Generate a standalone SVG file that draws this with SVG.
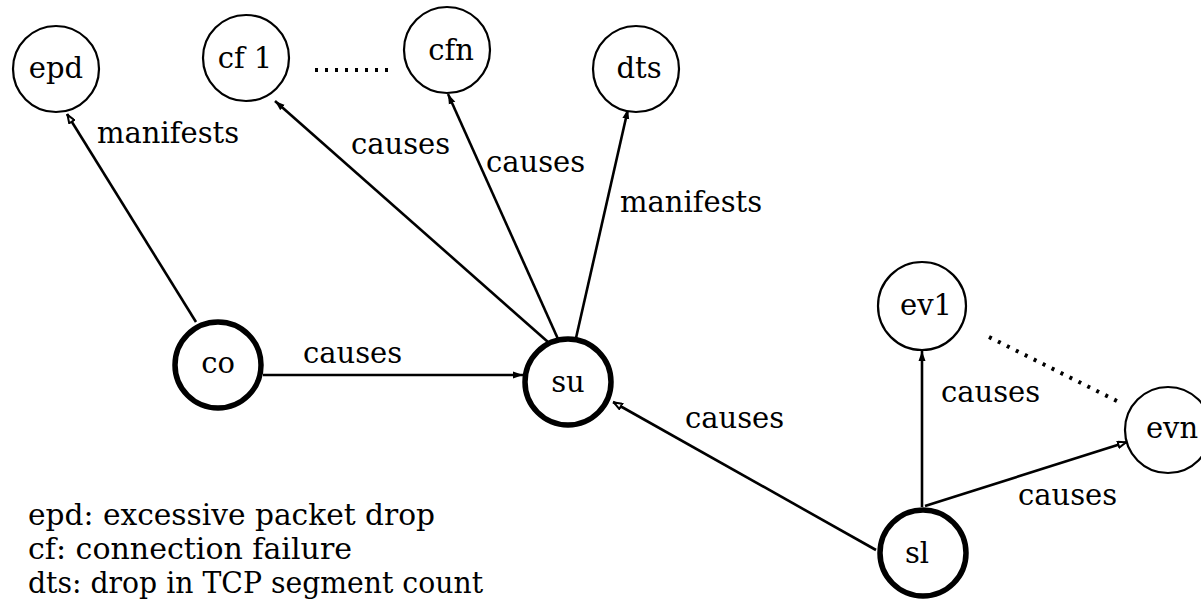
<svg xmlns="http://www.w3.org/2000/svg" width="1201" height="601" viewBox="0 0 1201 601">
<style>
.n{fill:#fff;stroke:#000;stroke-width:2.2}
.t{fill:#fff;stroke:#000;stroke-width:5.5}
.c{text-anchor:middle}
.e{stroke:#000;stroke-width:2.6;fill:none}
.d{stroke:#000;stroke-width:4;fill:none;stroke-dasharray:3 7}
</style>
<defs>
<marker id="a" viewBox="0 0 10 8" refX="10" refY="4" markerWidth="10" markerHeight="8" markerUnits="userSpaceOnUse" orient="auto"><path d="M0,0.5 L10,4 L0,7.5 z" fill="#000"/></marker>
<marker id="o" viewBox="0 0 10 8" refX="10" refY="4" markerWidth="10" markerHeight="8" markerUnits="userSpaceOnUse" orient="auto"><path d="M1,1 L9,4 L1,7 z" fill="#fff" stroke="#000" stroke-width="2"/></marker>
</defs>
<g font-family="'DejaVu Serif', 'Liberation Serif', serif" font-size="29" fill="#000">
<g id="connectors">
<line class="e" x1="196" y1="322" x2="67" y2="114" marker-end="url(#o)"/>
<line class="e" x1="548" y1="342" x2="275" y2="101" marker-end="url(#a)"/>
<line class="e" x1="558" y1="339" x2="448" y2="94" marker-end="url(#a)"/>
<line class="e" x1="576" y1="338" x2="628" y2="109" marker-end="url(#a)"/>
<line class="e" x1="263" y1="375" x2="523" y2="375" marker-end="url(#a)"/>
<line class="e" x1="876" y1="550" x2="613" y2="402" marker-end="url(#o)"/>
<line class="e" x1="922" y1="507" x2="922" y2="351" marker-end="url(#a)"/>
<line class="e" x1="925" y1="506" x2="1127" y2="442" marker-end="url(#o)"/>
<line class="d" x1="315" y1="70" x2="392" y2="70"/>
<line class="d" x1="989" y1="337" x2="1123" y2="404"/>
<text x="97" y="143">manifests</text>
<text x="351" y="154">causes</text>
<text x="486" y="172">causes</text>
<text x="620" y="212">manifests</text>
<text x="303" y="363">causes</text>
<text x="685" y="428">causes</text>
<text x="941" y="402">causes</text>
<text x="1018" y="505">causes</text>
</g>
<g id="epd"><circle class="n" cx="56" cy="69" r="43"/><text class="c" x="56" y="78">epd</text></g>
<g id="cf1"><circle class="n" cx="246" cy="58" r="43"/><text class="c" x="245" y="68">cf 1</text></g>
<g id="cfn"><circle class="n" cx="447" cy="50" r="43"/><text class="c" x="451" y="60">cfn</text></g>
<g id="dts"><circle class="n" cx="636" cy="69" r="43"/><text class="c" x="639" y="78">dts</text></g>
<g id="co"><circle class="t" cx="218" cy="365" r="43"/><text class="c" x="218" y="373">co</text></g>
<g id="su"><circle class="t" cx="568" cy="382" r="43"/><text class="c" x="568" y="392">su</text></g>
<g id="ev1"><circle class="n" cx="922" cy="306" r="44"/><text class="c" x="926" y="315">ev1</text></g>
<g id="evn"><circle class="n" cx="1168" cy="430" r="43"/><text class="c" x="1172" y="438">evn</text></g>
<g id="sl"><circle class="t" cx="923" cy="553" r="43"/><text class="c" x="917" y="563">sl</text></g>
<g id="legend">
<text x="28" y="525" textLength="407" lengthAdjust="spacingAndGlyphs">epd: excessive packet drop</text>
<text x="28" y="559" textLength="324" lengthAdjust="spacingAndGlyphs">cf: connection failure</text>
<text x="28" y="593" textLength="455" lengthAdjust="spacingAndGlyphs">dts: drop in TCP segment count</text>
</g>
</g>
</svg>
